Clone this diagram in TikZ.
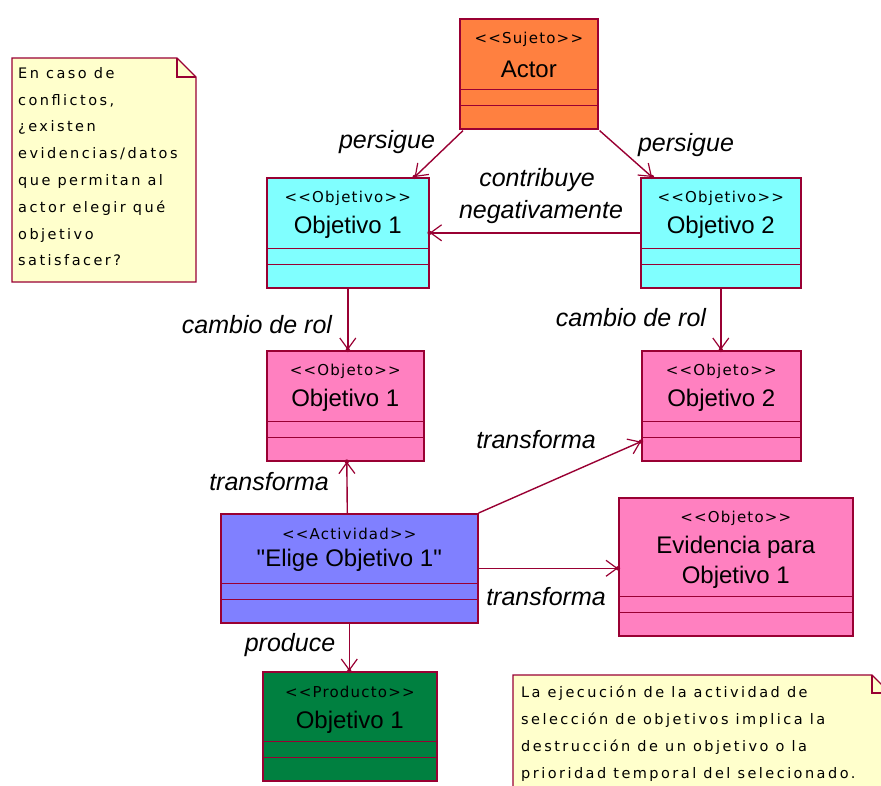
\documentclass[tikz,border=0pt]{standalone}
\usepackage{fontspec}
\setmainfont{Liberation Sans}[Ligatures=TeXOff]
\newfontfamily\stereofont[LetterSpace=8]{DejaVu Sans}
\newfontfamily\notefont[LetterSpace=17]{DejaVu Sans}
\usetikzlibrary{arrows.meta,calc,decorations.markings}

\definecolor{umlline}{RGB}{153,0,51}
\definecolor{actorfill}{RGB}{255,128,64}
\definecolor{goalfill}{RGB}{128,255,255}
\definecolor{objfill}{RGB}{255,128,192}
\definecolor{actfill}{RGB}{128,128,255}
\definecolor{prodfill}{RGB}{0,128,64}
\definecolor{notefill}{RGB}{255,255,204}

\tikzset{
  umlclass/.style={draw=umlline, line width=1.6pt, rectangle, inner sep=0pt, anchor=north west},
  compartment/.style={draw=umlline, line width=1.6pt},
  stereo/.style={font=\stereofont\fontsize{15}{17}\selectfont, inner sep=0pt},
  cname/.style={font=\fontsize{24}{30}\selectfont, inner sep=0pt, align=center},
  rel/.style={draw=umlline, line width=1.4pt,
    -{Straight Barb[length=11pt,width=16pt,line width=1.2pt]},
    decoration={markings, mark=at position 1 with {\fill[umlline] (0,0) circle (2.2pt);}},
    postaction=decorate},
  lbl/.style={font=\itshape\fontsize{25}{28}\selectfont, inner sep=0pt},
  notebox/.style={draw=umlline, line width=1.4pt, fill=notefill},
  notetext/.style={font=\notefont\fontsize{14.5}{26.8}\selectfont, inner sep=0pt, align=left, anchor=north west},
}

% #1 name, #2 x, #3 y, #4 width, #5 height, #6 fill, #7 stereotype, #8 class name, #9 name offset
\newcommand\umlclassbox[9]{%
  \node[umlclass, fill=#6, minimum width=#4pt, minimum height=#5pt] (#1) at (#2,#3) {};
  \draw[compartment] ($(#1.south west)+(0,-40)$) -- ($(#1.south east)+(0,-40)$);
  \draw[compartment] ($(#1.south west)+(0,-24)$) -- ($(#1.south east)+(0,-24)$);
  \node[stereo] (#1-st) at ($(#1.north)+(0,21)$) {#7};
  \node[cname] (#1-nm) at ($(#1.north)+(0,#9)$) {#8};
}

\begin{document}
\begin{tikzpicture}[x=1pt,y=-1pt]
\useasboundingbox (0,0) rectangle (881,785);
\clip (0,0) rectangle (881,785);

% class boxes
\umlclassbox{actor}{459}{18}{138}{110}{actorfill}{<<Sujeto>>}{Actor}{51}
\umlclassbox{g1}{266}{177}{162}{110}{goalfill}{<<Objetivo>>}{Objetivo 1}{50}
\umlclassbox{g2}{640}{177}{160}{110}{goalfill}{<<Objetivo>>}{Objetivo 2}{50}
\umlclassbox{o1}{266}{350}{157}{110}{objfill}{<<Objeto>>}{Objetivo 1}{50}
\umlclassbox{o2}{641}{350}{159}{110}{objfill}{<<Objeto>>}{Objetivo 2}{50}
\umlclassbox{act}{220}{513}{257}{109}{actfill}{<<Actividad>>}{"Elige Objetivo 1"}{47}
\umlclassbox{ev}{618}{497}{234}{138}{objfill}{<<Objeto>>}{Evidencia para\\Objetivo 1}{65}
\umlclassbox{prod}{262}{671}{174}{109}{prodfill}{<<Producto>>}{Objetivo 1}{51}

% notes
\draw[notebox] (12,58) -- (177,58) -- (196,77) -- (196,282) -- (12,282) -- cycle;
\draw[umlline, line width=1.4pt] (177,58) -- (177,77) -- (196,77);
\node[notetext] (note1) at (18,67) {En caso de\\conflictos,\\¿existen\\evidencias/datos\\que permitan al\\actor elegir qué\\objetivo\\satisfacer?};

\draw[notebox] (513,675) -- (872,675) -- (890,693) -- (890,800) -- (513,800) -- cycle;
\draw[umlline, line width=1.4pt] (872,675) -- (872,693) -- (890,693);
\node[notetext] (note2) at (521,686) {La ejecución de la actividad de\\selección de objetivos implica la\\destrucción de un objetivo o la\\prioridad temporal del selecionado.};

% relations
\draw[rel] ($(actor.south west)+(4,1)$) -- ($(g1.north east)+(-15,0)$);
\draw[rel] ($(actor.south east)+(1,1)$) -- ($(g2.north west)+(12,0)$);
\draw[rel] (g2.west) -- (g1.east);
\draw[rel] (g1.south) -- (g1.south |- o1.north);
\draw[rel] (g2.south) -- (g2.south |- o2.north);
\draw[rel] ($(act.north)+(-2,0)$) -- ($(o1.south)+(1.5,0)$);
\draw[rel] (act.north east) -- ($(o2.south west)+(0,-20)$);
\draw[rel] (act.east) -- (act.east -| ev.west);
\draw[rel] (act.south) -- (act.south |- prod.north);

% relation labels
\node[lbl] (l-pers1) at (387,142) {persigue};
\node[lbl] (l-pers2) at (686,145) {persigue};
\node[lbl] (l-contr1) at (537,180) {contribuye};
\node[lbl] (l-contr2) at (541,212) {negativamente};
\node[lbl] (l-rol1) at (257,325) {cambio de rol};
\node[lbl] (l-rol2) at (631,318) {cambio de rol};
\node[lbl] (l-tr1) at (536,440) {transforma};
\node[lbl] (l-tr2) at (269,482) {transforma};
\node[lbl] (l-tr3) at (546,597) {transforma};
\node[lbl] (l-prod) at (290,645) {produce};
\end{tikzpicture}
\end{document}
